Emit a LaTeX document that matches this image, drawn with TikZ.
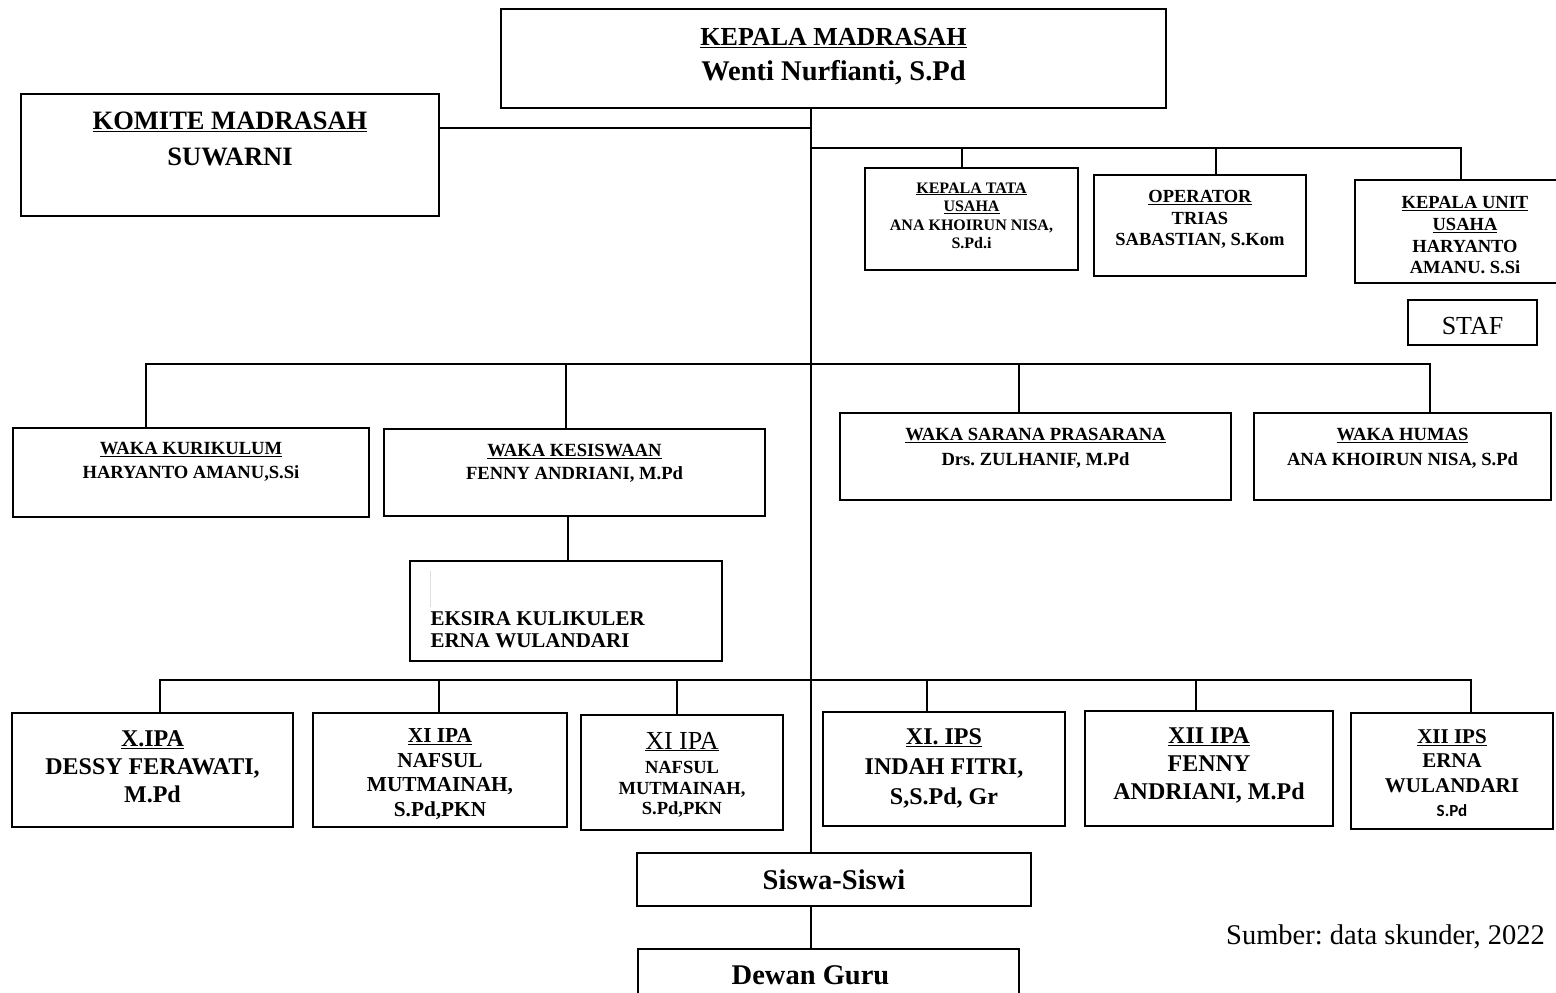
\documentclass[tikz,border=0pt]{standalone}
\usepackage{fontspec}
\setmainfont{Liberation Serif}
\newfontfamily\sansbold{Carlito}
\usetikzlibrary{positioning}
\newcommand\ukuran[2]{\fontsize{#1}{#2}\selectfont\bfseries}
\frenchspacing

\begin{document}
\begin{tikzpicture}[x=1pt, y=-1pt,
    kotak/.style={draw, line width=1.3pt, inner sep=0pt},
    garis/.style={line width=1.1pt},
    teks/.style={inner sep=0pt, align=center}]
    \useasboundingbox (0,0) rectangle (1556,993);
    % Kepala madrasah dan komite
    \node[kotak, minimum width=665pt, minimum height=99pt] (kepala) at (833.5,58.5) {};
    \node[teks, font=\ukuran{26}{35}, below=20pt of kepala.north] (tkepala) {\underline{KEPALA MADRASAH}\\{\fontsize{28.5}{35}\selectfont Wenti Nurfianti, S.Pd}};
    \node[kotak, minimum width=418pt, minimum height=122pt] (komite) at (230,155) {};
    \node[teks, font=\ukuran{26.5}{36}, below=18pt of komite.north] (tkomite) {\underline{KOMITE MADRASAH}\\SUWARNI};
    % Tata usaha, operator, unit usaha
    \node[kotak, minimum width=213pt, minimum height=102pt] (tu) at (971.5,219) {};
    \node[teks, font=\ukuran{16}{18.5}, below=15pt of tu.north] (ttu) {\underline{KEPALA TATA}\\\underline{USAHA}\\ANA KHOIRUN NISA,\\S.Pd.i};
    \node[kotak, minimum width=212pt, minimum height=101pt] (operator) at (1200,225.5) {};
    \node[teks, font=\ukuran{18.5}{21.5}, below=16pt of operator.north] (toperator) {\underline{OPERATOR}\\TRIAS\\SABASTIAN, S.Kom};
    \node[kotak, minimum width=220pt, minimum height=103pt] (unit) at (1465,231.5) {};
    \node[teks, font=\ukuran{18.5}{21.7}, below=17pt of unit.north] (tunit) {\underline{KEPALA UNIT}\\\underline{USAHA}\\HARYANTO\\AMANU. S.Si};
    \node[kotak, minimum width=129pt, minimum height=45pt] (staf) at (1472.5,322.5) {};
    \node[teks, font=\fontsize{26}{28}\selectfont] (tstaf) at ([yshift=-4pt]staf.center) {STAF};
    % Wakil kepala
    \node[kotak, minimum width=356pt, minimum height=89pt] (kurikulum) at (191,472.5) {};
    \node[teks, font=\ukuran{18.6}{24}, below=15pt of kurikulum.north] (tkurikulum) {\underline{WAKA KURIKULUM}\\HARYANTO AMANU,S.Si};
    \node[kotak, minimum width=381pt, minimum height=87pt] (kesiswaan) at (574.5,472.5) {};
    \node[teks, font=\ukuran{18.6}{23}, below=16pt of kesiswaan.north] (tkesiswaan) {\underline{WAKA KESISWAAN}\\FENNY ANDRIANI, M.Pd};
    \node[kotak, minimum width=391pt, minimum height=87pt] (sarana) at (1035.5,456.5) {};
    \node[teks, font=\ukuran{18.6}{25}, below=16pt of sarana.north] (tsarana) {\underline{WAKA SARANA PRASARANA}\\Drs. ZULHANIF, M.Pd};
    \node[kotak, minimum width=297pt, minimum height=87pt] (humas) at (1402.5,456.5) {};
    \node[teks, font=\ukuran{18.6}{25}, below=16pt of humas.north] (thumas) {\underline{WAKA HUMAS}\\ANA KHOIRUN NISA, S.Pd};
    % Ekstra kurikuler
    \node[kotak, minimum width=312pt, minimum height=100pt] (ekskul) at (566,611) {};
    \draw[gray!25, line width=1.2pt] ([shift={(21,11)}]ekskul.north west) -- ++(0,36);
    \node[teks, align=left, anchor=north west, font=\ukuran{21}{22}] (tekskul) at ([shift={(21,51)}]ekskul.north west) {EKSIRA KULIKULER\\ERNA WULANDARI};
    % Wali kelas
    \node[kotak, minimum width=281pt, minimum height=114pt] (xipa) at (152.5,770) {};
    \node[teks, font=\ukuran{24}{28}, below=18pt of xipa.north] (txipa) {\underline{X.IPA}\\DESSY FERAWATI,\\M.Pd};
    \node[kotak, minimum width=254pt, minimum height=114pt] (xiipa) at (440,770) {};
    \node[teks, font=\ukuran{21.3}{24.5}, below=16pt of xiipa.north] (txiipa) {\underline{XI IPA}\\NAFSUL\\MUTMAINAH,\\S.Pd,PKN};
    \node[kotak, minimum width=202pt, minimum height=115pt] (xiipab) at (682,772.5) {};
    \node[teks, font=\ukuran{18.5}{20.5}, below=17.5pt of xiipab.north] (txiipab) {{\fontsize{26}{28}\selectfont\mdseries\underline{XI IPA}}\\[4pt]NAFSUL\\MUTMAINAH,\\S.Pd,PKN};
    \node[kotak, minimum width=242pt, minimum height=114pt] (xiips) at (944,769) {};
    \node[teks, font=\ukuran{24}{30}, below=17pt of xiips.north] (txiips) {\underline{XI. IPS}\\INDAH FITRI,\\S,S.Pd, Gr};
    \node[kotak, minimum width=248pt, minimum height=115pt] (xiiipa) at (1209,768.5) {};
    \node[teks, font=\ukuran{24}{28}, below=17pt of xiiipa.north] (txiiipa) {\underline{XII IPA}\\FENNY\\ANDRIANI, M.Pd};
    \node[kotak, minimum width=202pt, minimum height=116pt] (xiiips) at (1452,771) {};
    \node[teks, font=\ukuran{21}{24.5}, below=17pt of xiiips.north] (txiiips) {\underline{XII IPS}\\ERNA\\WULANDARI\\{\sansbold\fontsize{17}{20}\selectfont S.Pd}};
    % Siswa dan dewan guru
    \node[kotak, minimum width=394pt, minimum height=53pt, font=\ukuran{28.5}{30}] (siswa) at (834,879.5) {Siswa-Siswi};
    \node[kotak, minimum width=381pt, minimum height=52pt] (dewan) at (828.5,975) {};
    \node[teks, font=\ukuran{28.5}{30}, below=17pt of dewan.north, xshift=-18pt] (tdewan) {Dewan Guru};
    \node[anchor=east, inner sep=0pt, font=\fontsize{28.5}{30}\selectfont] (sumber) at (1545,937) {Sumber: data skunder, 2022};
    % Garis komando
    \coordinate (a1) at (811,128);
    \coordinate (b1) at (811,148);
    \coordinate (c1) at (811,364);
    \coordinate (d1) at (811,680);
    \draw[garis] (kepala.south -| a1) -- (siswa.north -| a1);
    \draw[garis] (siswa.south -| a1) -- (dewan.north -| a1);
    \draw[garis] (komite.east |- a1) -- (a1);
    \foreach \n/\dx in {tu/-9.5, operator/16, unit/-4} {
        \draw[garis] ([xshift=\dx pt]\n.north) |- (b1);
    }
    \foreach \n/\dx in {kurikulum/-45, kesiswaan/-8.5, sarana/-16.5, humas/27.5} {
        \draw[garis] ([xshift=\dx pt]\n.north) |- (c1);
    }
    \draw[garis] ([xshift=2pt]ekskul.north) -- ([xshift=2pt]ekskul.north |- kesiswaan.south);
    \foreach \n/\dx in {xipa/7.5, xiipa/-1, xiipab/-5, xiips/-17, xiiipa/-13, xiiips/19} {
        \draw[garis] ([xshift=\dx pt]\n.north) |- (d1);
    }
\end{tikzpicture}
\end{document}
